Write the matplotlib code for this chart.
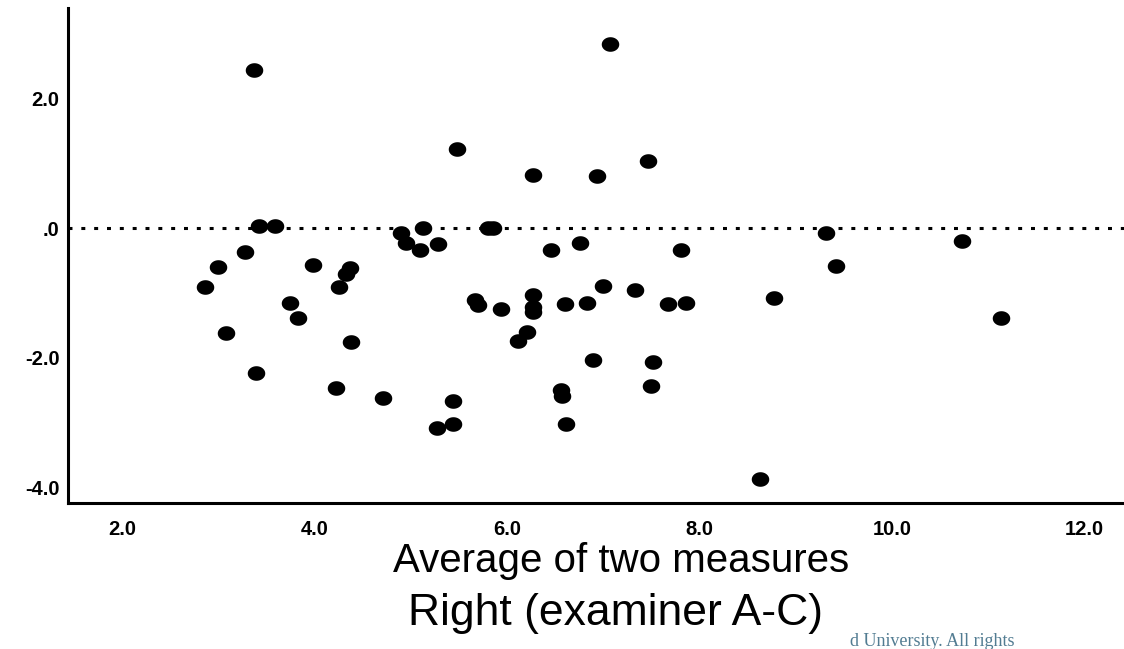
import numpy as np
import matplotlib
matplotlib.use("Agg")
from matplotlib import pyplot as plt
from matplotlib.path import Path

# Bland-Altman style scatter: mean of two measures vs difference

avg = [2.86, 3.00, 3.08, 3.28, 3.37, 3.39, 3.42, 3.59, 3.75, 3.83,
       3.99, 4.22, 4.26, 4.33, 4.37, 4.38, 4.71, 4.90, 4.95, 5.10,
       5.13, 5.27, 5.28, 5.44, 5.44, 5.48, 5.67, 5.70, 5.80, 5.85,
       5.94, 6.11, 6.21, 6.27, 6.27, 6.27, 6.27, 6.46, 6.56, 6.57,
       6.60, 6.61, 6.76, 6.83, 6.89, 6.94, 7.00, 7.07, 7.33, 7.47,
       7.50, 7.52, 7.67, 7.81, 7.86, 8.63, 8.77, 9.31, 9.42, 10.73,
       11.13]
diff = [-0.90, -0.60, -1.61, -0.37, 2.44, -2.24, 0.03, 0.03, -1.16, -1.39,
        -0.57, -2.47, -0.91, -0.70, -0.62, -1.76, -2.62, -0.08, -0.23, -0.34,
        0.00, -3.09, -0.25, -2.67, -3.02, 1.22, -1.10, -1.19, 0.00, 0.00,
        -1.24, -1.74, -1.60, 0.82, -1.03, -1.21, -1.29, -0.33, -2.50, -2.59,
        -1.17, -3.02, -0.23, -1.15, -2.03, 0.80, -0.89, 2.85, -0.96, 1.04,
        -2.43, -2.07, -1.17, -0.33, -1.15, -3.87, -1.08, -0.07, -0.58, -0.19,
        -1.39]

xticks = [2, 4, 6, 8, 10, 12]
yticks = [-4, -2, 0, 2]
ytick_labels = ["-4.0", "-2.0", ".0", "2.0"]

fig = plt.figure(figsize=(11.24, 6.49), dpi=100)
ax = fig.add_axes([68 / 1124, 1 - 503 / 649, (1124 - 68) / 1124, (503 - 8) / 649])

# slightly wide ellipse marker, like the stretched original
t = np.linspace(0, 2 * np.pi, 60)
ell = Path(np.column_stack([1.2 * np.cos(t), np.sin(t)]), closed=True)

ax.axhline(0, color="black", lw=2.2, linestyle=(0, (1.3, 2.9)), zorder=1)
ax.scatter(avg, diff, marker=ell, s=17 ** 2 * 0.55, color="black",
           linewidths=0, zorder=3)

ax.set_xlim(1.44, 12.41)
ax.set_ylim(-4.24, 3.40)
ax.set_xticks(xticks)
ax.set_xticklabels([f"{v:.1f}" for v in xticks])
ax.set_yticks(yticks)
ax.set_yticklabels(ytick_labels)

for s in ["top", "right"]:
    ax.spines[s].set_visible(False)
for s in ["left", "bottom"]:
    ax.spines[s].set_linewidth(2.2)
    ax.spines[s].set_color("black")

ax.tick_params(axis="both", length=0, labelsize=14.5)
ax.tick_params(axis="x", pad=12)
ax.tick_params(axis="y", pad=6)
for lab in ax.get_xticklabels() + ax.get_yticklabels():
    lab.set_fontfamily("Liberation Sans")
    lab.set_fontweight("bold")

fig.text(621 / 1124, 1 - 561 / 649, "Average of two measures",
         family="Liberation Sans", fontsize=29, ha="center", va="center")
fig.text(615 / 1124, 1 - 613 / 649, "Right (examiner A-C)",
         family="Liberation Sans", fontsize=32, ha="center", va="center")
fig.text(850 / 1124, 1 - 646 / 649, "d University. All rights",
         family="Liberation Serif", fontsize=13, color="#3f6e86",
         ha="left", va="baseline", alpha=0.9)

fig.savefig("out.png", dpi=100)
